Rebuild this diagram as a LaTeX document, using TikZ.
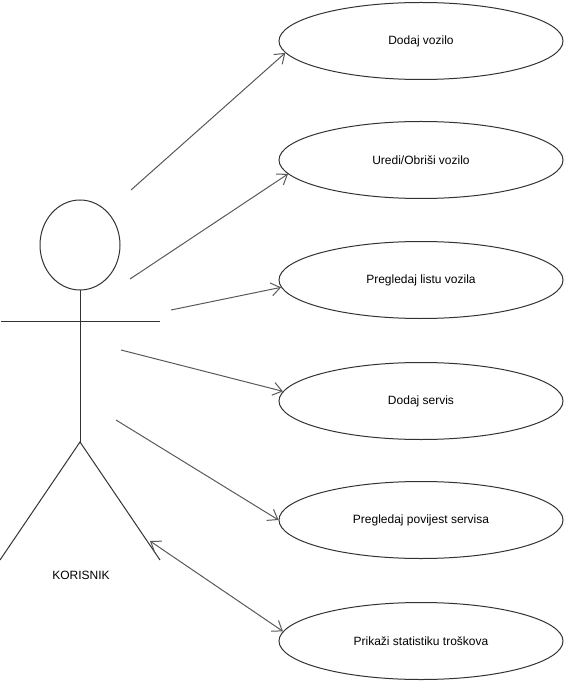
\documentclass[tikz,border=0pt]{standalone}
\usepackage{fontspec}
\setmainfont{Liberation Sans}
\usetikzlibrary{shapes.geometric,arrows.meta}
\begin{document}
\begin{tikzpicture}[x=1pt,y=-1pt,
  usecase/.style={ellipse,draw=black!80,line width=1pt,minimum width=284pt,minimum height=77pt,inner sep=0pt,font=\fontsize{12}{14}\selectfont},
  actorline/.style={draw=black!80,line width=1pt},
  assoc/.style={draw=black!65,line width=1pt,-{Straight Barb[length=9pt,width=13pt]}},
  assocboth/.style={draw=black!65,line width=1pt,{Straight Barb[length=9pt,width=13pt]}-{Straight Barb[length=9pt,width=13pt]}}]
\useasboundingbox (0,0) rectangle (572,692);
% use cases
\node[usecase] (e1) at (421,41) {Dodaj vozilo};
\node[usecase] (e2) at (421,160) {Uredi/Obriši vozilo};
\node[usecase] (e3) at (421,280) {Pregledaj listu vozila};
\node[usecase] (e4) at (421,401) {Dodaj servis};
\node[usecase] (e5) at (421,520) {Pregledaj povijest servisa};
\node[usecase] (e6) at (421,641) {Prikaži statistiku troškova};
% actor
\draw[actorline] (80,245) ellipse [x radius=40pt, y radius=45pt];
\coordinate (neck) at (80,290);
\coordinate (hip) at (80,442);
\coordinate (armL) at (1,321);
\coordinate (armR) at (160,321);
\coordinate (footL) at (0,560);
\coordinate (footR) at (160,560);
\draw[actorline] (neck) -- (hip);
\draw[actorline] (armL) -- (armR);
\draw[actorline] (footL) -- (hip) -- (footR);
\node[font=\fontsize{12}{14}\selectfont] (actor) at (81,575) {KORISNIK};
% connector start points
\coordinate (s1) at (131,190);
\coordinate (s2) at (130,279);
\coordinate (s3) at (171,310);
\coordinate (s4) at (121,350);
\coordinate (s5) at (116,420);
\coordinate (s6) at (150,541);
% connectors
\draw[assoc] (s1) -- (e1.185);
\draw[assoc] (s2) -- (e2.186);
\draw[assoc] (s3) -- (e3.183);
\draw[assoc] (s4) -- (e4.176);
\draw[assoc] (s5) -- (e5.180);
\draw[assocboth] (s6) -- (e6.176);
\end{tikzpicture}
\end{document}
